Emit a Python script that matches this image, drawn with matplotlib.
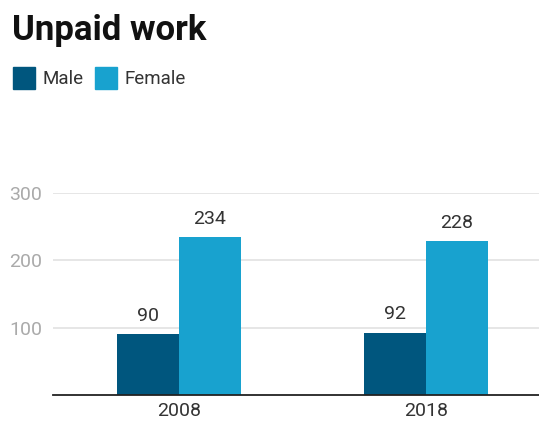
import matplotlib.pyplot as plt
from matplotlib.patches import Rectangle

plt.rcParams['font.family'] = ['Roboto', 'DejaVu Sans']

years = ['2008', '2018']
male = [90, 92]
female = [234, 228]
yticks = [100, 200, 300]

male_color = '#00567e'
female_color = '#18a2cf'

fig = plt.figure(figsize=(5.39, 4.21), dpi=100)
ax = fig.add_axes([53 / 539, 1 - 395 / 421, 1 - 53 / 539, (395 - 193) / 421])

x = list(range(len(years)))
w = 0.251
bm = ax.bar([i - w / 2 for i in x], male, w, color=male_color, zorder=3)
bf = ax.bar([i + w / 2 for i in x], female, w, color=female_color, zorder=3)

for bars, vals in [(bm, male), (bf, female)]:
    for b, v in zip(bars, vals):
        ax.annotate(str(v), (b.get_x() + b.get_width() / 2, v), xytext=(0, 7),
                    textcoords='offset points', ha='center', va='bottom',
                    fontsize=14, color='#333333', annotation_clip=False)

ax.set_xlim(-0.51, 1.457)
ax.set_ylim(0, 300)
ax.set_yticks(yticks)
ax.set_yticklabels([str(t) for t in yticks], fontsize=14, color='#aaaaaa')
ax.set_xticks(x)
ax.set_xticklabels(years, fontsize=14, color='#333333')
ax.tick_params(axis='y', length=0, pad=8)
ax.tick_params(axis='x', length=0, pad=5)
ax.yaxis.grid(True, color='#e4e4e4', linewidth=1.3, zorder=0)
for s in ['top', 'right', 'left']:
    ax.spines[s].set_visible(False)
ax.spines['bottom'].set_color('#222222')
ax.spines['bottom'].set_linewidth(1.3)
ax.spines['bottom'].set_zorder(4)

fig.text(12 / 539, 1 - 40 / 421, 'Unpaid work', fontsize=25, fontweight='bold',
         color='#111111', ha='left', va='baseline')

# legend
for px, label, c in [(13, 'Male', male_color), (95, 'Female', female_color)]:
    fig.patches.append(Rectangle((px / 539, 1 - 89 / 421), 22 / 539, 22 / 421,
                                 transform=fig.transFigure, color=c, figure=fig))
    fig.text((px + 29) / 539, 1 - 84 / 421, label, fontsize=13.5, color='#333333',
             ha='left', va='baseline')

fig.savefig('out.png', dpi=100)
